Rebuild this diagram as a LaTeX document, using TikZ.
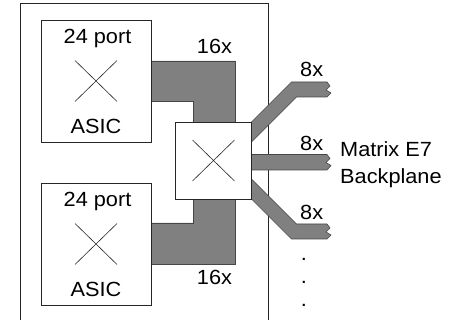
\documentclass[tikz,border=0pt]{standalone}
\usepackage{fontspec}
\setmainfont{Liberation Sans}[FakeStretch=1.06]
\definecolor{busgray}{RGB}{128,128,128}
\definecolor{busedge}{RGB}{70,70,70}
\usetikzlibrary{positioning,calc}

\begin{document}
\begin{tikzpicture}[x=1pt,y=-1pt,
    box/.style={draw=black!85,line width=0.8pt,fill=white,inner sep=0pt},
    bus/.style={fill=busgray,draw=busedge,line width=0.6pt,line join=miter},
    lbl/.style={inner sep=0pt,anchor=base,font=\fontsize{20.5}{23}\selectfont}]
  \useasboundingbox (0,0) rectangle (463,320);
  % chassis outline
  \draw[line width=0.8pt,black!85] (20.5,321) -- (20.5,3.5) -- (268,3.5) -- (268,321);

  % 16x buses from the ASICs to the crossbar
  \filldraw[bus] (151,61) -- (235,61) -- (235,122) -- (193,122) -- (193,101) -- (151,101) -- cycle;
  \filldraw[bus] (151,223) -- (193,223) -- (193,199) -- (235,199) -- (235,264) -- (151,264) -- cycle;

  % 8x links to the backplane
  \filldraw[bus] (251.5,122) -- (291.5,82) -- (327,82) -- ++(3,4) -- ++(-4,4) -- ++(5,3)
    -- (327,97) -- (296.5,97) -- (251.5,142) -- cycle;
  \filldraw[bus] (251.5,154.5) -- (327,154.5) -- ++(3,4) -- ++(-4,4) -- ++(5,3)
    -- (327,170) -- (251.5,170) -- cycle;
  \filldraw[bus] (251.5,179) -- (296.5,224) -- (327,224) -- ++(3,4) -- ++(-4,4) -- ++(5,3)
    -- (327,239) -- (291.5,239) -- (251.5,199) -- cycle;

  \node[box,minimum width=110pt,minimum height=122pt] (asicTop) at (96,81) {};
  \node[box,minimum width=110pt,minimum height=122pt] (asicBot) at (96,244) {};
  \node[box,minimum width=76pt,minimum height=77pt] (xbar) at (213.5,160.5) {};

  \foreach \n in {asicTop,asicBot,xbar}{
    \draw[black!85,line width=0.6pt] ($(\n.center)+(-21,-20.5)$) -- ($(\n.center)+(21,20.5)$)
      ($(\n.center)+(-21,20.5)$) -- ($(\n.center)+(21,-20.5)$);
  }

  \node[lbl] (portTop) at (97.5,44) {24 port};
  \node[lbl] (nameTop) at (96,133.5) {ASIC};
  \node[lbl] (portBot) at (97.5,207) {24 port};
  \node[lbl] (nameBot) at (96,297) {ASIC};

  \node[lbl] (wTop) at (214.5,53.3) {16x};
  \node[lbl] (wBot) at (214.5,285) {16x};
  \node[lbl] (lnkA) at (311.7,76.7) {8x};
  \node[lbl] (lnkB) at (311.7,150.7) {8x};
  \node[lbl] (lnkC) at (311.7,219.3) {8x};

  \node[lbl,anchor=west,align=left,font=\fontsize{20.5}{27}\selectfont] (plane) at (340,164.3)
    {Matrix E7\\Backplane};
  \node[lbl,anchor=center,align=center,font=\fontsize{20.5}{23.3}\selectfont] (more) at (304,282.5)
    {.\\.\\.};
\end{tikzpicture}
\end{document}
